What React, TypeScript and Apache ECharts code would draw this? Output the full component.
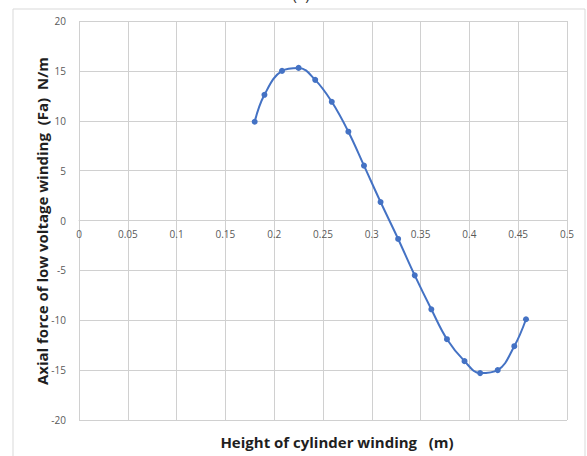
import React, { useEffect, useRef } from "react";
import * as echarts from "echarts";

const heights = [0.18, 0.19, 0.208, 0.225, 0.242, 0.259, 0.276, 0.292, 0.309, 0.327, 0.344, 0.361, 0.377, 0.395, 0.411, 0.429, 0.446, 0.458];
const forces = [9.9, 12.6, 15.0, 15.3, 14.1, 11.9, 8.9, 5.5, 1.85, -1.85, -5.5, -8.9, -11.9, -14.1, -15.3, -15.0, -12.6, -9.9];

const xTitle = "Height of cylinder winding   (m)";
const yTitle = "Axial force of low voltage winding  (Fa)  N/m";
const panelLabel = "(a)";

export default function App() {
  const ref = useRef<HTMLDivElement>(null);
  useEffect(() => {
    if (!ref.current) return;
    const chart = echarts.init(ref.current, null, { renderer: "svg" });
    const font = "'Open Sans', 'Noto Sans', sans-serif";
    chart.setOption({
      animation: false,
      backgroundColor: "#ffffff",
      grid: { left: 79, right: 20, top: 21, bottom: 36, containLabel: false },
      graphic: [
        {
          type: "rect",
          shape: { x: 13, y: 9, width: 572, height: 460 },
          style: { fill: "none", stroke: "#d9d9d9", lineWidth: 1 },
          silent: true,
          z: -1,
        },
        {
          type: "text",
          x: 301,
          y: -14,
          style: { text: panelLabel, fontSize: 15, fontFamily: font, fill: "#333", align: "center", verticalAlign: "top" },
        },
        {
          type: "text",
          x: 337,
          y: 442,
          style: { text: xTitle, fontSize: 15, fontWeight: "bold", fontFamily: font, fill: "#1f1f1f", align: "center", verticalAlign: "middle" },
        },
        {
          type: "text",
          x: 42,
          y: 221,
          rotation: Math.PI / 2,
          style: { text: yTitle, fontSize: 15, fontWeight: "bold", fontFamily: font, fill: "#1f1f1f", align: "center", verticalAlign: "middle" },
        },
      ],
      xAxis: {
        type: "value",
        min: 0,
        max: 0.5,
        interval: 0.05,
        offset: -199.5,
        axisLine: { show: true, onZero: false, lineStyle: { color: "#d0d0d0" } },
        axisTick: { show: false },
        axisLabel: { color: "#595959", fontSize: 10, fontFamily: font, margin: 8 },
        splitLine: { show: true, lineStyle: { color: "#d0d0d0", width: 1 } },
      },
      yAxis: {
        type: "value",
        min: -20,
        max: 20,
        interval: 5,
        axisLine: { show: false },
        axisTick: { show: false },
        axisLabel: { color: "#595959", fontSize: 10, fontFamily: font, margin: 13 },
        splitLine: { show: true, lineStyle: { color: "#d0d0d0", width: 1 } },
      },
      series: [
        {
          type: "line",
          data: heights.map((h, i) => [h, forces[i]]),
          smooth: 0.4,
          symbol: "circle",
          symbolSize: 6,
          lineStyle: { color: "#4472c4", width: 2 },
          itemStyle: { color: "#4472c4" },
        },
      ],
    });
    return () => chart.dispose();
  }, []);
  return <div ref={ref} style={{ position: "fixed", left: 0, top: 0, width: 587, height: 456 }} />;
}
